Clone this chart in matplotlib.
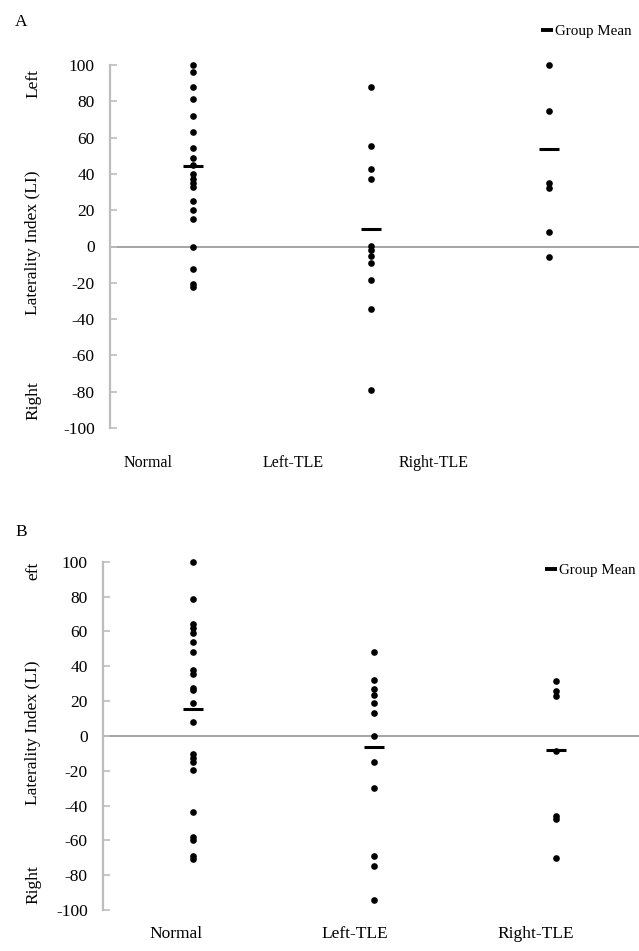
import matplotlib
matplotlib.use("Agg")
import matplotlib.pyplot as plt
from matplotlib.lines import Line2D
from matplotlib.transforms import blended_transform_factory

plt.rcParams['font.family'] = ['Liberation Serif', 'DejaVu Serif']

# -----------------------------------------------------------
# Datos
# -----------------------------------------------------------
groups = ["Normal", "Left-TLE", "Right-TLE"]

a_normal = [100, 96, 88, 81, 72, 63, 54, 49, 45, 40, 37, 35, 33, 25, 20, 15,
            0, -12.5, -20.5, -22.5]
a_left = [88, 55.6, 42.8, 37.3, 0.5, -2.2, -5, -9, -18.4, -34.3, -79]
a_right = [100, 74.6, 35, 32, 8, -6]
a_means = [44.5, 9.4, 53.7]

b_normal = [100, 78.5, 64.5, 62, 59, 54, 48.4, 38, 35.6, 27.4, 26.4, 19.1,
            7.9, -10.3, -12.8, -15.3, -19.5, -43.8, -58.3, -59.7, -69, -71]
b_left = [48.4, 32, 26.8, 23.5, 18.7, 13.4, 0, -15, -30, -69, -75, -94]
b_right = [31.5, 25.8, 23, -8.6, -46, -48, -70]
b_means = [15.5, -6.5, -8]

yticks = list(range(-100, 101, 20))

W, H = 639, 951
fig = plt.figure(figsize=(W / 100, H / 100), dpi=100)


def px_box(left, top, right, bottom):
    return [left / W, 1 - bottom / H, (right - left) / W, (bottom - top) / H]


def panel(box, xlim, series, means, letter, letter_y, side_labels,
          label_x, label_y, label_size, legend_xy):
    ax = fig.add_axes(box)
    for i, vals in enumerate(series):
        ax.plot([i + 1] * len(vals), vals, 'o', color='black', ms=4.8,
                mew=0, zorder=3, clip_on=False)
    ax.plot([1, 2, 3], means, '_', color='black', ms=14, mew=2.2, zorder=4,
            clip_on=False)

    ax.set_xlim(*xlim)
    ax.set_ylim(-100, 100)
    ax.set_yticks(yticks)
    ax.set_yticklabels([str(t) for t in yticks])
    ax.set_xticks([])
    for s in ['top', 'right', 'bottom']:
        ax.spines[s].set_visible(False)
    ax.spines['left'].set_color('#bdbdbd')
    ax.spines['left'].set_linewidth(1.6)
    ax.tick_params(axis='y', direction='in', length=5, width=1.2,
                   color='#bdbdbd', labelsize=12.5, pad=11)
    ax.axhline(0, color='#8c8c8c', lw=1.1, zorder=1)
    ax.patch.set_alpha(0)

    # Etiquetas de categoría
    trans = ax.get_xaxis_transform()
    for x, g in zip(label_x, groups):
        ax.text(x, label_y, g, transform=trans, ha='center', va='center',
                fontsize=label_size)

    # Etiquetas laterales del eje y
    tr = blended_transform_factory(fig.transFigure, ax.transData)
    for txt, yv in side_labels:
        ax.text(33 / W, yv, txt, transform=tr, rotation=90, ha='center',
                va='center', fontsize=12.5)

    fig.text(15 / W, 1 - letter_y / H, letter, fontsize=12.5,
             ha='left', va='center')

    handle = Line2D([], [], marker='_', ls='', color='black', ms=8, mew=2.8)
    ax.legend([handle], ['Group Mean'], loc='center left',
              bbox_to_anchor=(legend_xy[0] / W, 1 - legend_xy[1] / H),
              bbox_transform=fig.transFigure, frameon=False,
              handlelength=0.6, handletextpad=0.25, borderpad=0,
              borderaxespad=0, fontsize=10.8)
    return ax


panel(px_box(110, 65, 639, 428), (0.536, 3.504),
      [a_normal, a_left, a_right], a_means, "A", 22,
      [("Left", 90), ("Laterality Index (LI)", 2), ("Right", -85)],
      [0.749, 1.563, 2.354], -0.096, 11.5, (542, 31.7))

panel(px_box(103, 561.7, 639, 910), (0.506, 3.458),
      [b_normal, b_left, b_right], b_means, "B", 532,
      [("eft", 95), ("Laterality Index (LI)", 2), ("Right", -85.5)],
      [0.908, 1.893, 2.890], -0.068, 12.5, (546, 570.7))

fig.savefig("out.png", dpi=100)
